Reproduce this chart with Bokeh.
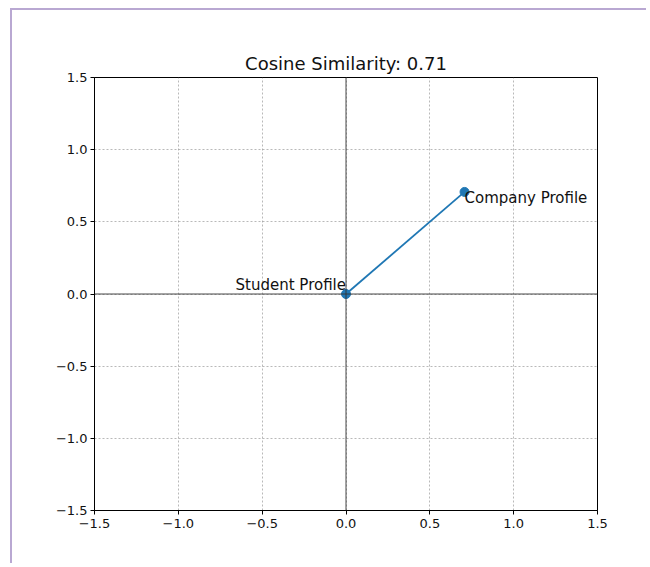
from bokeh.plotting import figure
from bokeh.models import FixedTicker, CustomJSTickFormatter, Span, ColumnDataSource
from bokeh.embed import file_html
from bokeh.resources import INLINE

# Data
labels = ["Student Profile", "Company Profile"]
xs = [0.0, 0.7071]
ys = [0.0, 0.7071]
ticks = [-1.5, -1.0, -0.5, 0.0, 0.5, 1.0, 1.5]
title_text = "Cosine Similarity: 0.71"

FONT = "DejaVu Sans"

p = figure(width=636, height=555, output_backend="svg", toolbar_location=None,
           x_range=(-1.5, 1.5), y_range=(-1.5, 1.5),
           min_border_left=82, min_border_right=51, min_border_top=67, min_border_bottom=55)
p.styles = {"border-left": "2px solid #b9a8d2", "border-top": "2px solid #b9a8d2",
            "margin-left": "10px", "margin-top": "8px"}

p.title.text = title_text
p.title.align = "center"
p.title.text_font = FONT
p.title.text_font_size = "18px"
p.title.text_font_style = "normal"
p.title.text_color = "#111111"
p.title.standoff = 8

p.outline_line_color = "black"
p.outline_line_width = 1
p.outline_line_alpha = 1

fmt = CustomJSTickFormatter(code="return (tick < 0 ? '\u2212' : '') + Math.abs(tick).toFixed(1);")
for ax in (p.xaxis[0], p.yaxis[0]):
    ax.ticker = FixedTicker(ticks=ticks)
    ax.formatter = fmt
    ax.major_tick_out = 4
    ax.major_tick_in = 0
    ax.minor_tick_line_color = None
    ax.major_label_text_font = FONT
    ax.major_label_text_font_size = "13px"
    ax.major_label_text_color = "#111111"
    ax.axis_line_color = "black"
    ax.major_tick_line_color = "black"
    ax.major_label_standoff = 3
p.xaxis[0].major_label_standoff = 4

for g in (p.xgrid[0], p.ygrid[0]):
    g.ticker = FixedTicker(ticks=ticks)
    g.grid_line_color = "#8a8a8a"
    g.grid_line_dash = "2 2"
    g.grid_line_width = 0.6

p.add_layout(Span(location=0, dimension="width", line_color="#333333", line_width=0.9))
p.add_layout(Span(location=0, dimension="height", line_color="#333333", line_width=0.9))

src = ColumnDataSource(dict(x=xs, y=ys))
p.line("x", "y", source=src, line_color="#1f77b4", line_width=1.8)
p.scatter("x", "y", source=src, size=9, fill_color="#1f77b4", line_color="#1f77b4")

p.text(x=[xs[0]], y=[ys[0]], text=[labels[0]], text_align="right", text_baseline="bottom",
       text_font={"value": FONT}, text_font_size="15px", text_color="#111111")
p.text(x=[xs[1]], y=[ys[1]], text=[labels[1]], text_align="left", text_baseline="top",
       y_offset=-3, text_font={"value": FONT}, text_font_size="15px", text_color="#111111")

open("out.html", "w").write(file_html(p, INLINE))
